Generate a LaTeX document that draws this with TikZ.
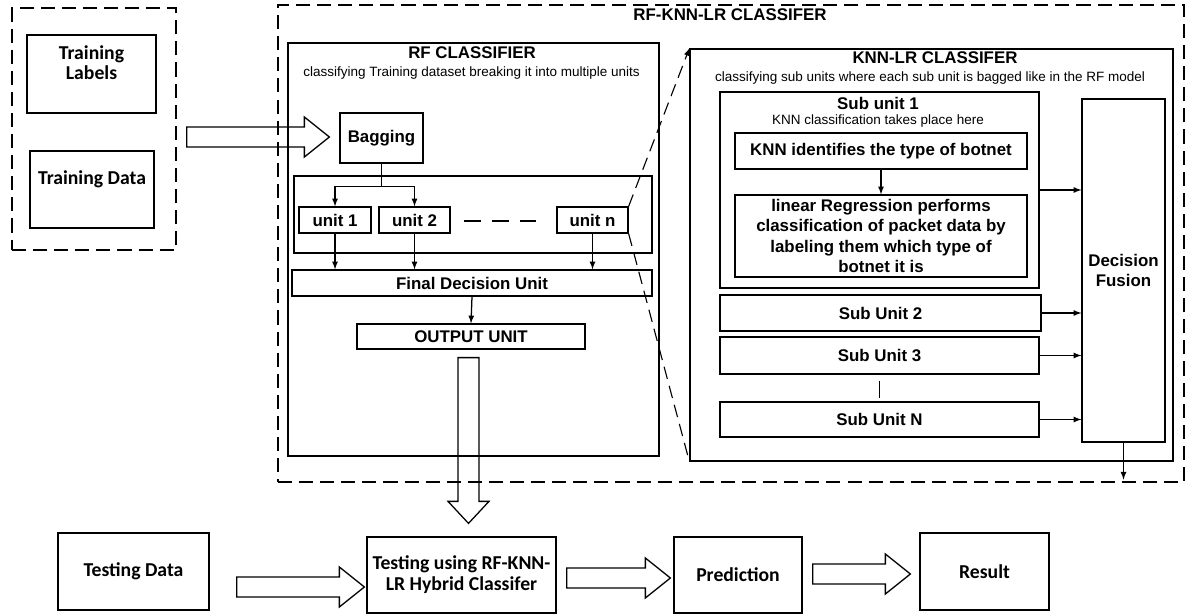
\documentclass[tikz,border=0pt]{standalone}
\usepackage{fontspec}
\setmainfont{Liberation Sans}
\newfontfamily\carlito{Carlito}
\usetikzlibrary{arrows}
\usetikzlibrary{calc}

\newcommand{\px}{0.025cm}
% hollow block arrows: start, tip
\newcommand{\hfat}[2]{%
  \draw[fat] ($(#1)+(0,-10)$) -- ($(#2)+(-25,-10)$) -- ($(#2)+(-25,-20)$) -- (#2)
    -- ($(#2)+(-25,20)$) -- ($(#2)+(-25,10)$) -- ($(#1)+(0,10)$) -- cycle;}
\newcommand{\vfat}[2]{%
  \draw[fat] ($(#1)+(-10.5,0)$) -- ($(#2)+(-10.5,-22)$) -- ($(#2)+(-20.5,-22)$) -- (#2)
    -- ($(#2)+(20.5,-22)$) -- ($(#2)+(10.5,-22)$) -- ($(#1)+(10.5,0)$) -- cycle;}

\tikzset{
  box/.style 2 args={draw, line width=.9pt, minimum width=#1*\px, minimum height=#2*\px,
    inner sep=0pt, align=center, font=\fontsize{12}{14.4}\selectfont\bfseries},
  group/.style 2 args={box={#1}{#2}, dash pattern=on 10pt off 5pt},
  cbox/.style 2 args={box={#1}{#2}, font=\carlito\fontsize{14}{15}\selectfont\bfseries},
  title/.style={inner sep=0pt, align=center, font=\fontsize{12}{14.4}\selectfont\bfseries},
  ctitle/.style={inner sep=0pt, align=center, font=\carlito\fontsize{14}{14.2}\selectfont\bfseries},
  note/.style={inner sep=0pt, font=\fontsize{9.6}{11}\selectfont},
  flow/.style={->, >=latex, line width=.9pt},
  zoomline/.style={line width=.8pt, dash pattern=on 9pt off 5pt},
  fat/.style={line width=.9pt, line join=miter}
}

\begin{document}
\begin{tikzpicture}[x=\px, y=-\px]
  \useasboundingbox (0,0) rectangle (1188,615);

  % training input
  \node[group={164}{242}] (train) at (94,129) {};
  \node[box={129}{78}] (labels) at (91.5,74) {};
  \node[ctitle] (labelstxt) at (91.5,63) {Training\\Labels};
  \node[box={124}{77}] (data) at (92,189.5) {};
  \node[ctitle] (datatxt) at (92,179) {Training Data};

  % hybrid classifier
  \node[group={906}{477}] (outer) at (731,243.5) {};
  \node[title] (outertxt) at (730,15) {RF-KNN-LR CLASSIFER};

  % RF part
  \node[box={371}{413}] (rf) at (473.5,249.5) {};
  \node[title] (rftitle) at (472,53) {RF CLASSIFIER};
  \node[note] (rfnote) at (471.5,73) {classifying Training dataset breaking it into multiple units};
  \node[box={83}{50}] (bagging) at (381.5,138) {Bagging};
  \node[box={358}{77}] (units) at (473,214.5) {};
  \node[box={72}{26}] (unit1) at (335,220) {unit 1};
  \node[box={71}{26}] (unit2) at (414.5,220) {unit 2};
  \node[box={71}{26}] (unitn) at (592.5,220) {unit n};
  \node[box={360}{26}] (final) at (472,283) {Final Decision Unit};
  \node[box={228}{25}] (output) at (471,336.5) {OUTPUT UNIT};

  \draw[line width=.9pt] (bagging.south) -- ++(0,23) coordinate (split);
  \draw[flow] (split) -| (unit1.north);
  \draw[flow] (split) -| (unit2.north);
  \foreach \nd in {unit1,unit2,unitn}
    \draw[flow] (\nd.south) -- (\nd.south |- final.north);
  \draw[line width=.9pt, dash pattern=on 12pt off 8pt] ($(unit2.east)+(13,1)$) -- ($(unitn.west)+(-20,1)$);
  \draw[flow] (final.south) -- (output.north);

  % KNN-LR part
  \node[box={483}{412}] (knn) at (931.5,255) {};
  \node[title] (knntitle) at (935,58) {KNN-LR CLASSIFER};
  \node[note] (knnnote) at (930,78) {classifying sub units where each sub unit is bagged like in the RF model};
  \node[box={319}{196}] (sub1) at (879.5,190) {};
  \node[title] (sub1title) at (878,103) {Sub unit 1};
  \node[note] (sub1note) at (878,121) {KNN classification takes place here};
  \node[box={292}{36}] (knnid) at (881,151) {KNN identifies the type of botnet};
  \node[box={292}{82}] (linreg) at (881,236) {linear Regression performs\\classification of packet data by\\labeling them which type of\\botnet it is};
  \node[box={321}{36}] (sub2) at (880.5,313) {Sub Unit 2};
  \node[box={319}{37}] (sub3) at (879.5,355.5) {Sub Unit 3};
  \node[box={319}{35}] (subn) at (879.5,419.5) {Sub Unit N};
  \node[box={83}{343}] (fusion) at (1123.5,270.5) {Decision\\Fusion};

  \draw[flow] (knnid.south) -- (linreg.north);
  \foreach \nd in {sub1,sub2,sub3,subn}
    \draw[flow] (\nd.east) -- (\nd.east -| fusion.west);
  \draw[line width=.9pt] ($(sub3.south)+(0,6)$) -- ($(subn.north)+(0,-3)$);
  \draw[flow] (fusion.south) -- ($(fusion.south |- outer.south)+(0,-3)$);

  % zoom from unit n
  \draw[zoomline, -latex] (unitn.north east) -- (knn.north west);
  \draw[zoomline] (unitn.south east) -- (knn.south west);

  % testing
  \node[cbox={151}{77}] (testdata) at (133.5,571.5) {Testing Data};
  \node[cbox={189}{76}] (testing) at (461.5,575) {Testing using RF-KNN-\\LR Hybrid Classifer};
  \node[cbox={128}{76}] (prediction) at (738,575) {Prediction};
  \node[cbox={129}{77}] (result) at (984.5,571.5) {Result};

  % block arrows
  \coordinate (f0s) at ($(train.east |- bagging.west)+(10,-1)$);
  \coordinate (f0t) at ($(bagging.west)+(-10,-1)$);
  \hfat{f0s}{f0t}
  \coordinate (f1s) at ($(testdata.east)+(27,15.5)$);
  \coordinate (f1t) at ($(f1s -| testing.west)+(-2,0)$);
  \hfat{f1s}{f1t}
  \coordinate (f2s) at ($(testing.east)+(10,3)$);
  \coordinate (f2t) at ($(f2s -| prediction.west)+(-3,0)$);
  \hfat{f2s}{f2t}
  \coordinate (f3s) at ($(prediction.east)+(10,-1)$);
  \coordinate (f3t) at ($(f3s -| result.west)+(-9,0)$);
  \hfat{f3s}{f3t}
  \coordinate (f4s) at ($(output.south)+(-2.5,8)$);
  \coordinate (f4t) at ($(f4s |- testing.north)+(0,-13)$);
  \vfat{f4s}{f4t}
\end{tikzpicture}
\end{document}
